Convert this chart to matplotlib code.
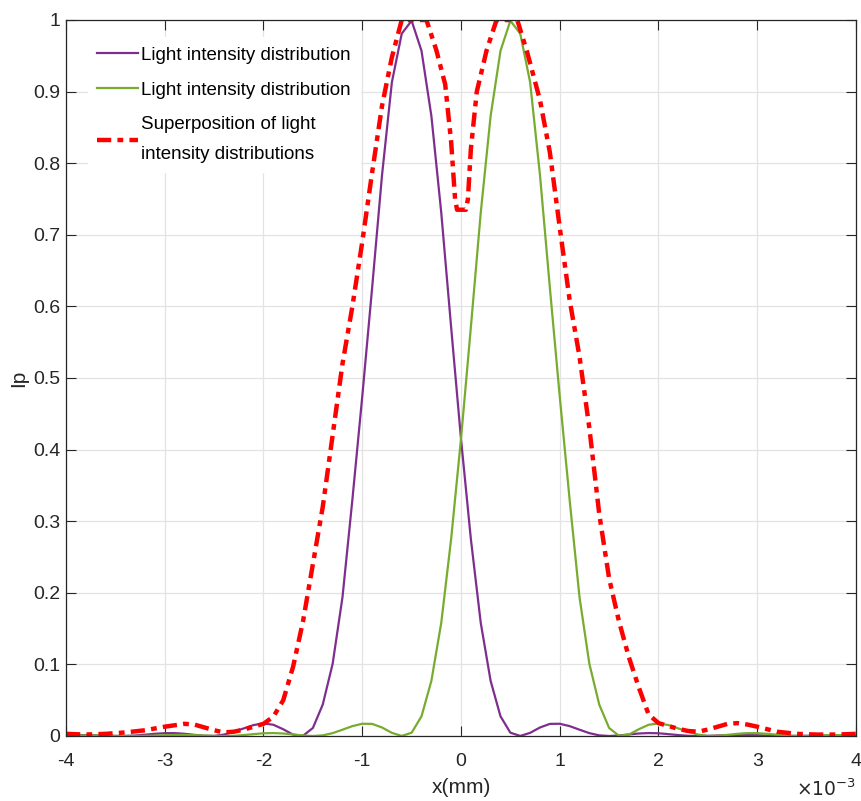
import numpy as np
import matplotlib
matplotlib.use('Agg')
import matplotlib.pyplot as plt

# DATA (x in units of 1e-3 mm)

x_grid = np.round(np.arange(-40, 41) * 0.1, 1)

purple_ip = [0.0013, 0.0013, 0.0012, 0.0010, 0.0004, 0.0000, 0.0001, 0.0007, 0.0018, 0.0031,
             0.0039, 0.0040, 0.0031, 0.0016, 0.0003, 0.0001, 0.0020, 0.0060, 0.0106, 0.0153,
             0.0175, 0.0157, 0.0094, 0.0019, 0.0003, 0.0112, 0.0439, 0.1007, 0.194, 0.330,
             0.474, 0.626, 0.783, 0.913, 0.981, 0.999, 0.957, 0.866, 0.731, 0.571,
             0.415,
             0.275, 0.158, 0.077, 0.0275, 0.0046, 0.0001, 0.0044, 0.0119, 0.0169, 0.0171,
             0.0138, 0.0088, 0.0040, 0.0009, 0.0000, 0.0007, 0.0022, 0.0035, 0.0041, 0.0038,
             0.0026, 0.0013, 0.0003, 0.0000, 0.0002, 0.0007, 0.0012, 0.0015, 0.0014, 0.0011,
             0.0006, 0.0002, 0.0000, 0.0001, 0.0003, 0.0006, 0.0007, 0.0008, 0.0007, 0.0006]

green_ip = [0.0006, 0.0007, 0.0008, 0.0007, 0.0006, 0.0003, 0.0001, 0.0000, 0.0002, 0.0006,
            0.0011, 0.0014, 0.0015, 0.0012, 0.0007, 0.0002, 0.0000, 0.0003, 0.0013, 0.0026,
            0.0038, 0.0041, 0.0035, 0.0022, 0.0007, 0.0000, 0.0009, 0.0040, 0.0088, 0.0138,
            0.0171, 0.0169, 0.0119, 0.0044, 0.0001, 0.0046, 0.0275, 0.077, 0.158, 0.275,
            0.415,
            0.571, 0.731, 0.866, 0.957, 0.999, 0.981, 0.913, 0.783, 0.626, 0.474,
            0.330, 0.194, 0.1007, 0.0439, 0.0112, 0.0003, 0.0019, 0.0094, 0.0157, 0.0175,
            0.0153, 0.0106, 0.0060, 0.0020, 0.0001, 0.0003, 0.0016, 0.0031, 0.0040, 0.0039,
            0.0031, 0.0018, 0.0007, 0.0001, 0.0000, 0.0004, 0.0010, 0.0012, 0.0013, 0.0013]

red_x = [-4.0, -3.8, -3.6, -3.4, -3.2, -3.0, -2.9, -2.8, -2.7, -2.6,
         -2.5, -2.4, -2.3, -2.2, -2.1, -2.0, -1.9, -1.8, -1.7, -1.6,
         -1.5, -1.4, -1.3, -1.2, -1.1, -1.0, -0.9, -0.8, -0.7, -0.6,
         -0.5, -0.4, -0.35, -0.25, -0.16, -0.1, -0.06, -0.04, 0.05, 0.07,
         0.1, 0.16, 0.26, 0.36, 0.46, 0.57, 0.67, 0.8, 0.9, 1.0,
         1.1, 1.2, 1.3, 1.4, 1.5, 1.6, 1.7, 1.8, 1.9, 2.0,
         2.1, 2.2, 2.3, 2.4, 2.5, 2.6, 2.7, 2.8, 2.9, 3.0,
         3.2, 3.4, 3.6, 3.8, 4.0]

red_ip = [0.003, 0.002, 0.003, 0.005, 0.008, 0.013, 0.015, 0.017, 0.016, 0.012,
          0.008, 0.005, 0.006, 0.009, 0.013, 0.017, 0.027, 0.05, 0.097, 0.16,
          0.24, 0.32, 0.42, 0.52, 0.60, 0.69, 0.787, 0.88, 0.948, 1.0,
          1.0, 1.0, 1.0, 0.958, 0.91, 0.83, 0.75, 0.735, 0.735, 0.75,
          0.82, 0.90, 0.958, 1.0, 1.0, 1.0, 0.955, 0.888, 0.815, 0.71,
          0.609, 0.53, 0.43, 0.31, 0.22, 0.16, 0.11, 0.068, 0.03, 0.018,
          0.014, 0.010, 0.007, 0.006, 0.009, 0.013, 0.017, 0.018, 0.016, 0.013,
          0.006, 0.003, 0.002, 0.002, 0.003]

labels = ['Light intensity distribution', 'Light intensity distribution',
          'Superposition of light\nintensity distributions']

# STYLE

plt.rcParams['font.family'] = ['Liberation Sans', 'DejaVu Sans']
plt.rcParams['axes.unicode_minus'] = False

fig = plt.figure(figsize=(8.62, 8.01), dpi=100)
ax = fig.add_axes([66 / 862, 65 / 801, 790 / 862, 716 / 801])

ax.plot(x_grid, purple_ip, color='#7E2F8E', lw=1.6, label=labels[0])
ax.plot(x_grid, green_ip, color='#77AC30', lw=1.6, label=labels[1])
ax.plot(red_x, red_ip, color='#FF0000', lw=3.2, dashes=(3.2, 1.4, 1.3, 1.4), label=labels[2])

ax.set_xlim(-4, 4)
ax.set_ylim(0, 1)
ax.set_xticks(np.arange(-4, 5, 1))
ax.set_yticks(np.round(np.arange(0, 1.01, 0.1), 1))
ax.set_xticklabels([str(v) for v in range(-4, 5)])
ax.set_yticklabels(['0'] + ['%.1f' % v for v in np.arange(0.1, 0.95, 0.1)] + ['1'])

ax.grid(True, color='#e3e3e3', lw=0.9)
ax.set_axisbelow(True)
ax.tick_params(direction='in', length=7, width=0.8, top=True, right=True,
               labelsize=14, colors='#262626')
ax.tick_params(axis='x', pad=12)
ax.tick_params(axis='y', pad=4)
for sp in ax.spines.values():
    sp.set_color('#262626')
    sp.set_linewidth(0.9)

ax.set_xlabel('x(mm)', fontsize=15, color='#262626', labelpad=6)
ax.set_ylabel('Ip', fontsize=15, color='#262626', labelpad=4)
ax.text(1.0, -0.084, r'$\times10^{-3}$', transform=ax.transAxes, ha='right', va='baseline',
        fontsize=13.5, color='#262626')

leg = ax.legend(loc='upper left', bbox_to_anchor=(0.028, 0.976), frameon=True,
                fancybox=False, edgecolor='white', facecolor='white', framealpha=1,
                fontsize=13.5, handlelength=2.15, handletextpad=0.15, labelspacing=0.95,
                borderpad=0.5, borderaxespad=0)
for t in leg.get_texts():
    t.set_linespacing(1.95)

fig.savefig('out.png', dpi=100)
